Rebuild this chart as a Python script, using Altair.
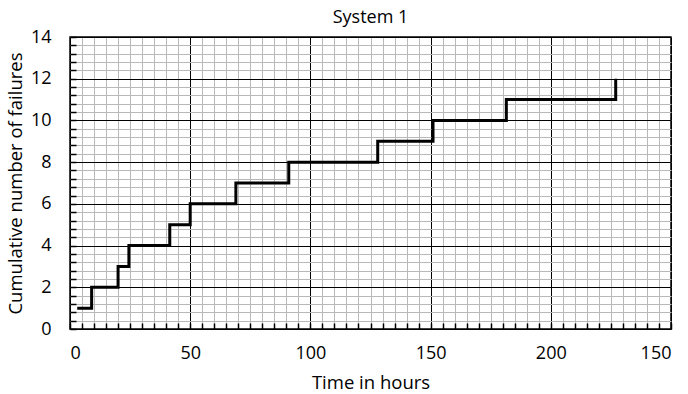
import altair as alt
import pandas as pd

# Data
times = [3, 9, 20, 24.5, 41.5, 50, 69, 91, 128, 151, 181.5, 227]
failures = [1, 2, 3, 4, 5, 6, 7, 8, 9, 10, 11, 12]

x_major = [0, 50, 100, 150, 200, 250]
x_tick_labels = ["0", "50", "100", "150", "200", "150"]
x_minor = list(range(0, 251, 5))
y_major = [0, 2, 4, 6, 8, 10, 12, 14]
y_minor = [round(i * 0.4, 1) for i in range(0, 36)]

df = pd.DataFrame({"t": times, "n": failures})

W, H = 601, 292
FONT = "Open Sans"

label_expr = " : ".join(
    [f"datum.value == {v} ? '{l}'" for v, l in zip(x_major, x_tick_labels)] + ["datum.label"]
)

xs = alt.Scale(domain=[0, 250], nice=False, zero=False)
ys = alt.Scale(domain=[0, 14], nice=False, zero=False)

minor = alt.Chart(df).mark_line(opacity=0).encode(
    x=alt.X("t:Q", scale=xs, axis=alt.Axis(values=x_minor, grid=True, gridColor="#b8b8b8",
                                           gridWidth=1, labels=False, ticks=False, domain=False,
                                           title=None, orient="bottom")),
    y=alt.Y("n:Q", scale=ys, axis=alt.Axis(values=y_minor, grid=True, gridColor="#b8b8b8",
                                           gridWidth=1, labels=False, ticks=False, domain=False,
                                           title=None, orient="left")),
)

inticks = alt.Chart(df).mark_line(opacity=0).encode(
    x=alt.X("t:Q", scale=xs, axis=alt.Axis(values=x_minor, grid=False, labels=False, ticks=True,
                                           tickSize=6, tickColor="black", tickWidth=1.5,
                                           domain=False, title=None, orient="top", offset=-H)),
    y=alt.Y("n:Q", scale=ys, axis=alt.Axis(values=y_minor, grid=False, labels=False, ticks=True,
                                           tickSize=6, tickColor="black", tickWidth=1.5,
                                           domain=False, title=None, orient="right", offset=-W)),
)

major = alt.Chart(df).mark_line(interpolate="step-after", color="black", strokeWidth=3).encode(
    x=alt.X("t:Q", scale=xs, axis=alt.Axis(values=x_major, grid=True, gridColor="black",
                                           gridWidth=1, labelExpr=label_expr, ticks=False,
                                           domain=False, title="Time in hours", orient="bottom",
                                           labelPadding=15, titlePadding=11)),
    y=alt.Y("n:Q", scale=ys, axis=alt.Axis(values=y_major, grid=True, gridColor="black",
                                           gridWidth=1, ticks=False, domain=False,
                                           title="Cumulative number of failures", orient="left",
                                           labelPadding=19, titlePadding=5)),
)

chart = (
    alt.layer(minor, inticks, major)
    .resolve_axis(x="independent", y="independent")
    .properties(
        width=W, height=H,
        title=alt.TitleParams("System 1", fontSize=18, font=FONT, fontWeight="normal",
                              color="black", offset=1),
        autosize=alt.AutoSizeParams(type="none"),
        padding={"left": 70, "top": 37, "right": 17, "bottom": 65},
    )
    .configure_view(stroke="black", strokeWidth=1.5)
    .configure_axis(labelFont=FONT, titleFont=FONT, labelFontSize=18, titleFontSize=18.5,
                    labelColor="black", titleColor="black", titleFontWeight="normal")
)

chart.save("out.html", embed_options={"renderer": "svg", "actions": False})
